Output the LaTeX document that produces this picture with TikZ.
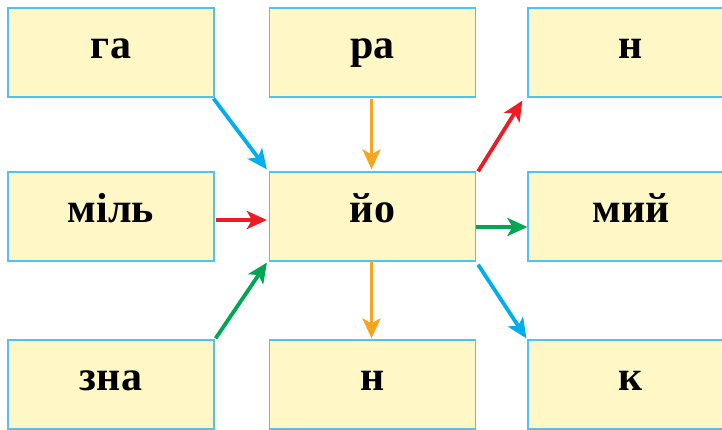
\documentclass[tikz,border=0pt]{standalone}
\usepackage{fontspec}
\setmainfont{Liberation Serif}
\usepackage{xcolor}
\usetikzlibrary{arrows.meta}

\definecolor{boxfill}{HTML}{FFF8C6}
\definecolor{boxline}{HTML}{4FC3EE}
\definecolor{arrblue}{HTML}{00AEEF}
\definecolor{arrorange}{HTML}{F7A51E}
\definecolor{arrred}{HTML}{ED1C24}
\definecolor{arrgreen}{HTML}{00A651}

\tikzset{
    syl/.style={draw=boxline, line width=1.2pt, fill=boxfill,
        minimum width=206pt, minimum height=89pt, inner sep=0pt,
        text height=23pt, text depth=11pt,
        font=\fontsize{42}{46}\selectfont\bfseries},
    link/.style={line width=3.8pt, -{Stealth[length=20pt, width=18pt, inset=5pt]}}
}

\begin{document}
\begin{tikzpicture}[x=1pt, y=-1pt]

        \useasboundingbox (0,0) rectangle (722,430);

        % Top row
        \node[syl] (ga) at (111, 52.5) {га};
        \node[syl] (ra) at (372.5, 52.5) {ра};
        \node[syl] (ntop) at (631, 52.5) {н};

        % Middle row
        \node[syl] (mil) at (111, 216.5) {міль};
        \node[syl] (yo) at (372.5, 216.5) {йо};
        \node[syl] (myi) at (631, 216.5) {мий};

        % Bottom row
        \node[syl] (zna) at (111, 384.5) {зна};
        \node[syl] (nbot) at (372.5, 384.5) {н};
        \node[syl] (k) at (631, 384.5) {к};

        % Arrows into the middle
        \draw[link, arrblue] ([xshift=-1pt, yshift=-1pt]ga.south east) -- ([xshift=-2pt, yshift=2pt]yo.north west);
        \draw[link, arrorange] ([xshift=-1pt, yshift=-1pt]ra.south) -- ([xshift=-1pt, yshift=2pt]yo.north);
        \draw[link, arrred] ([xshift=1pt, yshift=-3.5pt]mil.east) -- ([xshift=-2pt, yshift=-3.5pt]yo.west);
        \draw[link, arrgreen] ([xshift=1pt, yshift=1pt]zna.north east) -- ([xshift=-2pt, yshift=-1pt]yo.south west);

        % Arrows out of the middle
        \draw[link, arrred] ([xshift=2pt, yshift=0pt]yo.north east) -- ([xshift=-5pt, yshift=-3pt]ntop.south west);
        \draw[link, arrgreen] ([yshift=-10.5pt]yo.east) -- ([yshift=-10.5pt]myi.west);
        \draw[link, arrorange] ([xshift=-1pt, yshift=1pt]yo.south) -- ([xshift=-1pt, yshift=1pt]nbot.north);
        \draw[link, arrblue] ([xshift=2pt, yshift=-3pt]yo.south east) -- ([xshift=-1pt, yshift=1pt]k.north west);

\end{tikzpicture}
\end{document}
